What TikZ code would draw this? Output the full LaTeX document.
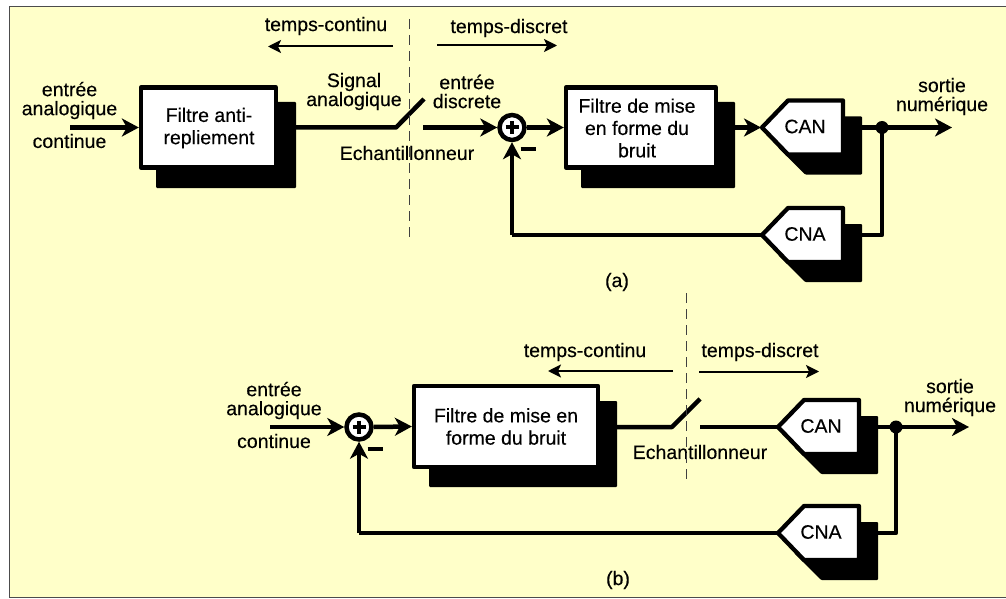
\documentclass[tikz,border=0pt]{standalone}
\usepackage{fontspec}
\setmainfont[FakeBold=0.3]{Liberation Sans}
\usetikzlibrary{arrows.meta}
\definecolor{paper}{HTML}{FFFFC9}
\tikzset{
  txt/.style={align=center,inner sep=0pt,font=\fontsize{19.5}{19}\selectfont},
  wire/.style={line width=4.5pt,line join=round},
  harrow/.style={wire,-{Stealth[length=17pt,width=18pt,inset=5pt]}},
  tarrow/.style={line width=2pt,-{Stealth[length=13pt,width=13pt,inset=3pt]}},
  boxw/.style={draw,fill=white,line width=4.3pt,line join=round,inner sep=0pt},
  boxs/.style={fill=black,rounded corners=1pt,inner sep=0pt,outer sep=0pt},
  sumnode/.style={circle,draw,fill=white,line width=4.5pt,minimum size=25pt,inner sep=0pt},
  dotnode/.style={circle,fill=black,minimum size=13pt,inner sep=0pt},
  divider/.style={line width=1pt,draw=black!75,dash pattern=on 10pt off 6pt},
}
% \conv{name}{tip x}{tip y}{label}
\newcommand{\conv}[4]{%
  \coordinate (#1-tip) at (#2,#3);
  \coordinate (#1-out) at (#2+101,#3);
  \fill[rounded corners=1pt] (#2+27,#3-11) -- (#2+101,#3-11) -- (#2+101,#3+47) -- (#2+44,#3+47) -- (#2+17,#3+20) -- cycle;
  \draw[line width=4.3pt,fill=white,line join=round] (#2+27,#3-27) -- (#2+82,#3-27) -- (#2+82,#3+27) -- (#2+27,#3+27) -- (#2+1,#3) -- cycle;
  \node[txt] (#1) at (#2+44,#3-1) {#4};
}
% \sumplus{name}{x}{y}
\newcommand{\sumplus}[3]{%
  \node[sumnode] (#1) at (#2,#3) {};
  \draw[line width=4pt] (#1.center) ++(-6.5,0) -- ++(13,0) (#1.center) ++(0,-6.5) -- ++(0,13);
  \draw[line width=4pt] (#2+8.5,#3+21.5) -- ++(15,0);
}
\begin{document}
\begin{tikzpicture}[x=1pt,y=-1pt]
\useasboundingbox (0,0) rectangle (1006,599);
\fill[white] (0,0) rectangle (1006,599);
\draw[fill=paper,draw=black!70,line width=1pt] (9,7) rectangle (1012,597);

% ---------- (a)
\node[boxs,minimum width=140pt,minimum height=86pt] (f1s) at (226,145) {};
\node[boxw,minimum width=135pt,minimum height=80pt] (f1) at (208.5,127.5) {};
\node[txt] (f1t) at (209,128) {Filtre anti-\\[3.3pt]repliement};
\node[boxs,minimum width=154pt,minimum height=86pt] (f2s) at (658,145) {};
\node[boxw,minimum width=150pt,minimum height=80pt] (f2) at (641,127.5) {};
\node[txt] (f2t) at (637,128) {Filtre de mise\\[3.3pt]en forme du\\[3.3pt]bruit};
\conv{can1}{761}{127.5}{CAN}
\conv{cna1}{761}{235}{CNA}
\sumplus{sum1}{512}{127.5}
\node[dotnode] (j1) at (882,127.5) {};

\coordinate (in1) at (70,127.5);
\coordinate (sw1) at (396,127.5);
\coordinate (sw1e) at (424,99);
\coordinate (sw1o) at (423,127.5);
\coordinate (out1) at (952,127.5);
\coordinate (c1) at (882,235);
\coordinate (c2) at (512,235);

\draw[harrow] (in1) -- (f1.west);
\draw[wire] (f1s.east |- sw1) -- (sw1) -- (sw1e);
\draw[harrow] (sw1o) -- (sum1.west);
\draw[harrow] (sum1.east) -- (f2.west);
\draw[harrow] (f2s.east |- can1-tip) -- (can1-tip);
\draw[harrow] (can1-out) -- (out1);
\draw[wire] (j1.center) -- (c1) -- (cna1-out);
\draw[wire] (cna1-tip) -- (c2);
\draw[harrow] (c2) -- (sum1.south);

\coordinate (d1t) at (409,19);
\coordinate (d1b) at (409,239);
\node[txt] (ec1) at (407,153) {Echantillonneur};
\draw[divider] (d1t) -- (d1b);

\coordinate (tc1a) at (393,46.5);
\coordinate (tc1b) at (268,46.5);
\coordinate (td1a) at (437,45.5);
\coordinate (td1b) at (557,45.5);
\draw[tarrow] (tc1a) -- (tc1b);
\draw[tarrow] (td1a) -- (td1b);
\node[txt] (tc1) at (326,26) {temps-continu};
\node[txt] (td1) at (509,28) {temps-discret};
\node[txt] (sa) at (354,91.5) {Signal\\analogique};
\node[txt] (ed) at (467,91.5) {entrée\\discrete};
\node[txt] (ea1) at (69.5,100.5) {entrée\\analogique};
\node[txt] (co1) at (69.5,141) {continue};
\node[txt] (so1) at (942,96.5) {sortie\\numérique};
\node[txt] (la) at (617,282) {(a)};

% ---------- (b)
\node[boxs,minimum width=188pt,minimum height=86pt] (f3s) at (523,444) {};
\node[boxw,minimum width=184pt,minimum height=81pt] (f3) at (506,426.5) {};
\node[txt] (f3t) at (506,426.5) {Filtre de mise en\\[3.3pt]forme du bruit};
\conv{can2}{777}{427}{CAN}
\conv{cna2}{777}{533}{CNA}
\sumplus{sum2}{359}{427}
\node[dotnode] (j2) at (896,427) {};

\coordinate (in2) at (270,427);
\coordinate (sw2) at (672,427);
\coordinate (sw2e) at (700,399);
\coordinate (sw2o) at (700,427);
\coordinate (out2) at (969,427);
\coordinate (c3) at (896,533);
\coordinate (c4) at (359,533);

\draw[harrow] (in2) -- (sum2.west);
\draw[harrow] (sum2.east) -- (f3.west);
\draw[wire] (f3s.east |- sw2) -- (sw2) -- (sw2e);
\draw[wire] (sw2o) -- (can2-tip);
\draw[harrow] (can2-out) -- (out2);
\draw[wire] (j2.center) -- (c3) -- (cna2-out);
\draw[wire] (cna2-tip) -- (c4);
\draw[harrow] (c4) -- (sum2.south);

\coordinate (d2t) at (686,293);
\coordinate (d2b) at (686,484);
\node[txt] (ec2) at (700,452) {Echantillonneur};
\draw[divider] (d2t) -- (d2b);

\coordinate (tc2a) at (673,371);
\coordinate (tc2b) at (548,371);
\coordinate (td2a) at (699,371.5);
\coordinate (td2b) at (819,371.5);
\draw[tarrow] (tc2a) -- (tc2b);
\draw[tarrow] (td2a) -- (td2b);
\node[txt] (tc2) at (585,352) {temps-continu};
\node[txt] (td2) at (760,352) {temps-discret};
\node[txt] (ea2) at (274,400.5) {entrée\\analogique};
\node[txt] (co2) at (274,441) {continue};
\node[txt] (so2) at (950,397.5) {sortie\\numérique};
\node[txt] (lb) at (618,580) {(b)};
\end{tikzpicture}
\end{document}
